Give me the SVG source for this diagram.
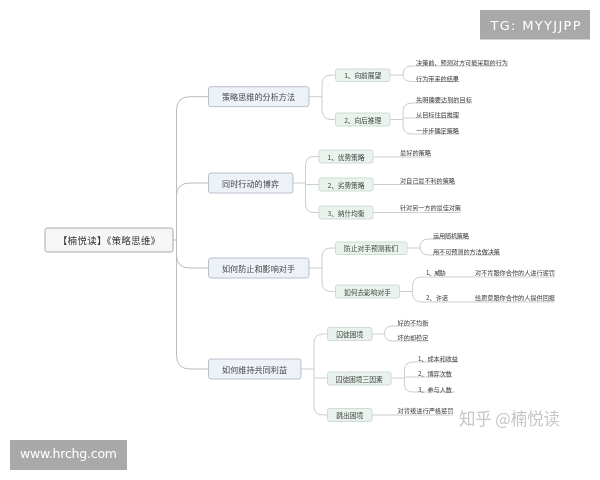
<svg xmlns="http://www.w3.org/2000/svg" width="600" height="480" viewBox="0 0 600 480">
<defs><filter id="soft" x="-5%" y="-30%" width="110%" height="160%"><feGaussianBlur stdDeviation="0.3"/></filter></defs>
<style>
text{font-family:"Noto Sans CJK SC","Liberation Sans",sans-serif;fill:#454545;dominant-baseline:central;filter:url(#soft)}
.c{fill:none;stroke:#c9cfcb;stroke-width:1}
.t{fill:none;stroke:#b9bdbb;stroke-width:1}
.root{fill:#f6f6f6;stroke:#a8a8a8;stroke-width:1}
.l1{fill:#edf1f8;stroke:#b9c0c8;stroke-width:1}
.l2{fill:#e9f2ec;stroke:#cfdcd4;stroke-width:1}
.r{font-size:9.3px;text-anchor:middle;fill:#333}
.a{font-size:8.1px;text-anchor:middle}
.b{font-size:6.8px;text-anchor:middle}
.s{font-size:6.2px;fill:#3c3c3c}
.bar{fill:#a9a9a9}
.w{fill:#fff;font-family:"DejaVu Sans","Liberation Sans",sans-serif;text-anchor:middle}
.wm{font-size:16.5px;fill:#c6c6c6;text-anchor:start}
</style>
<rect width="600" height="480" fill="#fff"/>
<g id="connectors">
<path class="t" d="M173 240H176.5M208.5 96.7H190Q176.5 96.7 176.5 110V355Q176.5 369 190 369H208.5M208.5 183H190Q176.5 183 176.5 196M176.5 255Q176.5 268 190 268H208.5"/>
<path class="c" d="M309 96.7H322M335.5 75H331Q322 75 322 85V109Q322 119.5 331 119.5H335.5"/>
<path class="c" d="M390 75H403M416 66H412Q403 66 403 75Q403 81.5 412 81.5H416H459M416 66H508"/>
<path class="c" d="M390 119.5H403M472 103H412Q403 103 403 112V125Q403 134 412 134H459M403 118H459"/>
<path class="c" d="M293 183H305.5M319 156.5H314Q305.5 156.5 305.5 165V204Q305.5 212.5 314 212.5H319M305.5 184.5H319"/>
<path class="c" d="M373 157H431M373 184.5H455M373 212.5H461"/>
<path class="c" d="M309 268H322M335.5 248H331Q322 248 322 257V282Q322 291.5 331 291.5H335.5"/>
<path class="c" d="M407 248H420M469 239H429Q420 239 420 247Q420 255 429 255H500"/>
<path class="c" d="M399.5 291.5H412.5M555 277H422Q412.5 277 412.5 286V293Q412.5 302 422 302H555"/>
<path class="c" d="M301 369H314M327.5 334H323Q314 334 314 343V406Q314 415 323 415H327.5M314 378H327.5"/>
<path class="c" d="M372 334H384.5M428 326H393Q384.5 326 384.5 333.5Q384.5 341 393 341H428"/>
<path class="c" d="M391 378H404.5M458 362H413Q404.5 362 404.5 370V384Q404.5 392 413 392H455M404.5 377H451"/>
<path class="c" d="M372 415H453"/>
</g>
<g id="root"><rect class="root" x="45" y="228" width="128" height="24" rx="2.5"/><text class="r" x="109" y="240" textLength="102">【楠悦读】《策略思维》</text></g>
<g id="n1"><rect class="l1" x="208.5" y="86.7" width="100.5" height="20" rx="2.5"/><text class="a" x="258.5" y="96.7" textLength="73">策略思维的分析方法</text></g>
<g id="n2"><rect class="l1" x="208.5" y="173" width="84.5" height="20" rx="2.5"/><text class="a" x="250.5" y="183" textLength="57">同时行动的博弈</text></g>
<g id="n3"><rect class="l1" x="208.5" y="258" width="100.5" height="20" rx="2.5"/><text class="a" x="258.5" y="268" textLength="73">如何防止和影响对手</text></g>
<g id="n4"><rect class="l1" x="208.5" y="359" width="92.5" height="20" rx="2.5"/><text class="a" x="254.5" y="369" textLength="65">如何维持共同利益</text></g>
<g id="n1a"><rect class="l2" x="335.5" y="69" width="54.5" height="12.5" rx="2"/><text class="b" x="362.7" y="75.2" textLength="37">1、向前展望</text></g>
<g id="n1b"><rect class="l2" x="335.5" y="113" width="54.5" height="13" rx="2"/><text class="b" x="362.7" y="119.5" textLength="37">2、向后推理</text></g>
<g id="n2a"><rect class="l2" x="319" y="150" width="54" height="13" rx="2"/><text class="b" x="346" y="156.5" textLength="37">1、优势策略</text></g>
<g id="n2b"><rect class="l2" x="319" y="178" width="54" height="13" rx="2"/><text class="b" x="346" y="184.5" textLength="37">2、劣势策略</text></g>
<g id="n2c"><rect class="l2" x="319" y="206" width="54" height="13" rx="2"/><text class="b" x="346" y="212.5" textLength="37">3、纳什均衡</text></g>
<g id="n3a"><rect class="l2" x="335.5" y="242" width="71.5" height="12.5" rx="2"/><text class="b" x="371" y="248.2" textLength="54">防止对手预测我们</text></g>
<g id="n3b"><rect class="l2" x="335.5" y="285" width="64" height="13" rx="2"/><text class="b" x="367.5" y="291.5" textLength="47">如何去影响对手</text></g>
<g id="n4a"><rect class="l2" x="327.5" y="327.5" width="44.5" height="13" rx="2"/><text class="b" x="349.7" y="334" textLength="27">囚徒困境</text></g>
<g id="n4b"><rect class="l2" x="327.5" y="372" width="63.5" height="13" rx="2"/><text class="b" x="359.2" y="378.5" textLength="47">囚徒困境三因素</text></g>
<g id="n4c"><rect class="l2" x="327.5" y="408.5" width="44.5" height="13" rx="2"/><text class="b" x="349.7" y="415" textLength="27">跳出困境</text></g>
<g id="leaves">
<text class="s" x="416" y="62.5" textLength="92">决策前、预测对方可能采取的行为</text>
<text class="s" x="416" y="78" textLength="43">行为带来的结果</text>
<text class="s" x="416" y="99.5" textLength="56">先明确要达到的目标</text>
<text class="s" x="416" y="114.5" textLength="43">从目标往后推理</text>
<text class="s" x="416" y="130" textLength="43">一步步确定策略</text>
<text class="s" x="400" y="152" textLength="31">最好的策略</text>
<text class="s" x="400" y="180" textLength="55">对自己最不利的策略</text>
<text class="s" x="400" y="207.5" textLength="61">针对另一方的最佳对策</text>
<text class="s" x="433" y="235.5" textLength="36">运用随机策略</text>
<text class="s" x="433" y="251" textLength="67">用不可预测的方法做决策</text>
<text class="s" x="426" y="272.5" textLength="20">1、威胁</text>
<text class="s" x="475" y="272.5" textLength="80">对不肯跟你合作的人进行惩罚</text>
<text class="s" x="426" y="297" textLength="22">2、许诺</text>
<text class="s" x="475" y="297" textLength="80">给愿意跟你合作的人提供回报</text>
<text class="s" x="397.5" y="322" textLength="31">好的不均衡</text>
<text class="s" x="397.5" y="337" textLength="31">坏的却稳定</text>
<text class="s" x="418" y="358.5" textLength="40">1、成本和收益</text>
<text class="s" x="418" y="373.5" textLength="34">2、博弈次数</text>
<text class="s" x="418" y="389" textLength="34">3、参与人数</text>
<text class="s" x="397.5" y="410.5" textLength="56">对背叛进行严格惩罚</text>
</g>
<text class="wm" x="459" y="417.5" textLength="101">知乎 @楠悦读</text>
<g id="badge-top"><rect class="bar" x="480" y="10" width="110" height="29.5"/><text class="w" x="535.5" y="25" font-size="13" textLength="90">TG: MYYJJPP</text></g>
<g id="badge-bottom"><rect class="bar" x="10" y="440" width="117" height="30"/><text class="w" x="68.5" y="453.5" font-size="12.5" textLength="97">www.hrchg.com</text></g>
</svg>
